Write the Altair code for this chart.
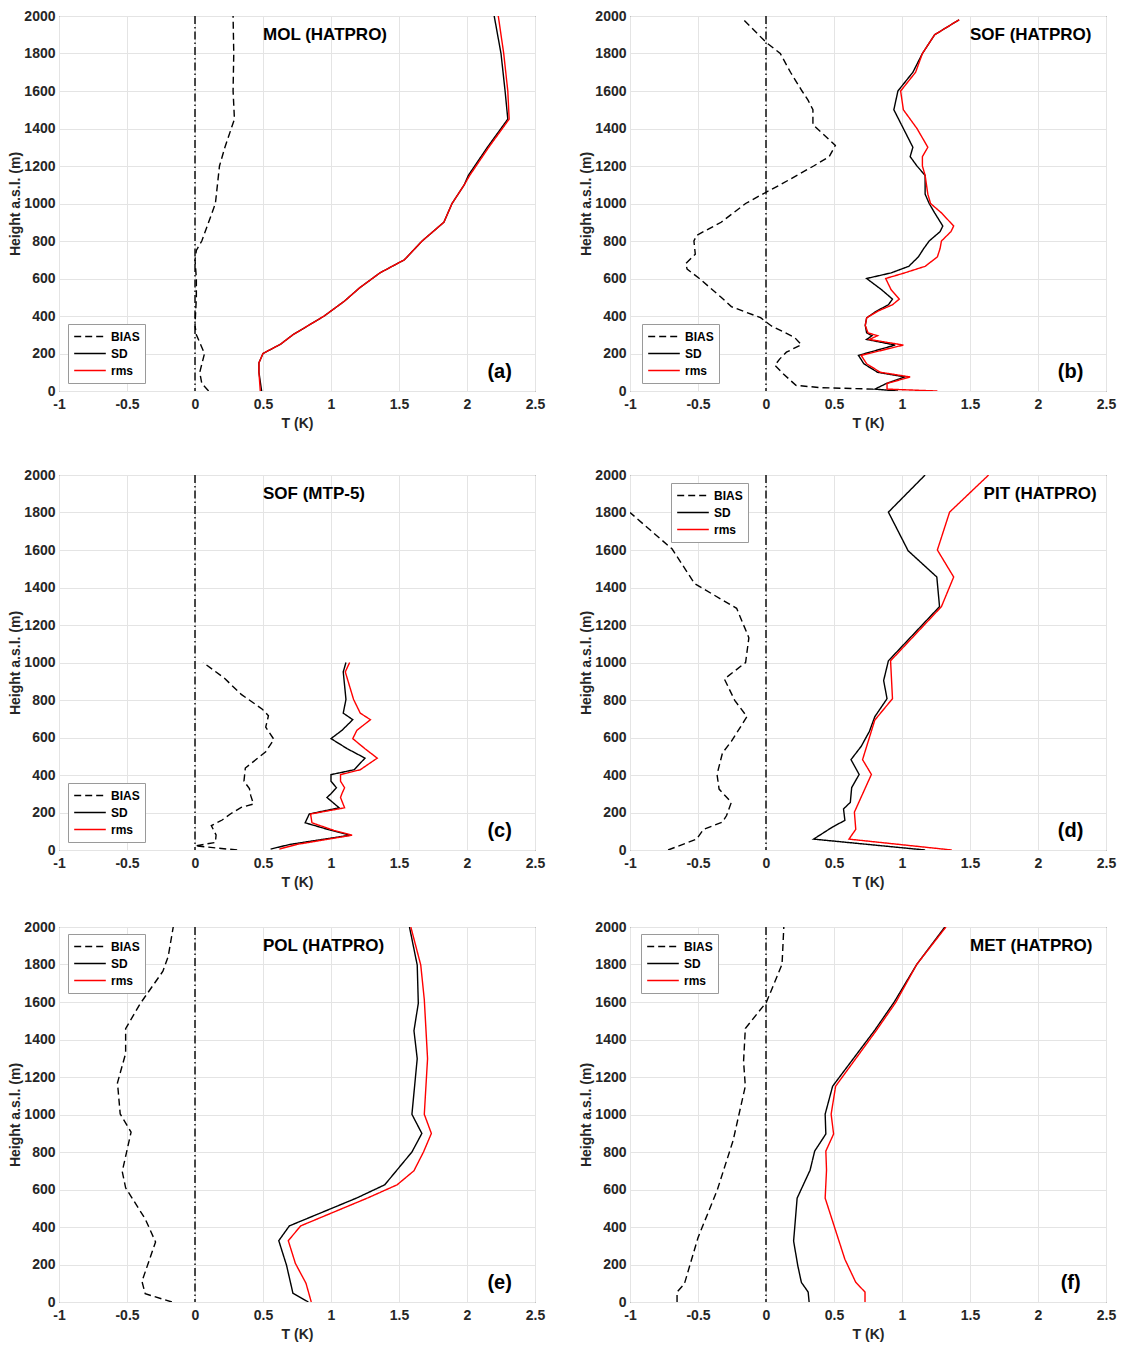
import altair as alt
import pandas as pd

SERIES = ["BIAS", "SD", "rms"]
X_TICKS = [-1, -0.5, 0, 0.5, 1, 1.5, 2, 2.5]
Y_TICKS = [0, 200, 400, 600, 800, 1000, 1200, 1400, 1600, 1800, 2000]

# (a) MOL (HATPRO)
mol_h_bias = [0, 40, 100, 200, 300, 350, 500, 600, 700, 750, 800, 1000, 1200, 1300, 1450, 1600, 1800, 2000]
mol_bias = [0.10, 0.05, 0.035, 0.07, 0.01, 0.0, 0.01, 0.01, 0.0, 0.01, 0.05, 0.15, 0.18, 0.22, 0.29, 0.28, 0.285, 0.28]
mol_h = [0, 100, 150, 200, 250, 300, 400, 480, 550, 630, 700, 800, 900, 1000, 1100, 1150, 1300, 1450, 1600, 1800, 2000]
mol_sd = [0.49, 0.47, 0.47, 0.50, 0.63, 0.72, 0.95, 1.10, 1.21, 1.36, 1.54, 1.67, 1.83, 1.89, 1.98, 2.01, 2.15, 2.30, 2.28, 2.25, 2.20]
mol_rms = [0.48, 0.47, 0.47, 0.50, 0.63, 0.72, 0.95, 1.10, 1.21, 1.36, 1.54, 1.67, 1.83, 1.89, 1.98, 2.02, 2.16, 2.31, 2.30, 2.27, 2.23]

# (b) SOF (HATPRO)
sofh_h_bias = [10, 18, 30, 50, 93, 137, 170, 207, 247, 286, 347, 391, 450, 500, 600, 650, 680, 730, 800, 830,
               900, 1000, 1060, 1100, 1200, 1250, 1310, 1420, 1500, 1550, 1600, 1700, 1800, 1860, 1980]
sofh_bias = [0.79, 0.40, 0.22, 0.19, 0.125, 0.065, 0.10, 0.15, 0.26, 0.21, 0.04, -0.04, -0.255, -0.33, -0.49,
             -0.58, -0.59, -0.52, -0.53, -0.51, -0.33, -0.15, 0.0, 0.105, 0.35, 0.465, 0.51, 0.345, 0.345,
             0.31, 0.265, 0.18, 0.105, 0.0, -0.165]
sofh_h = [0, 10, 40, 75, 100, 145, 190, 245, 275, 295, 310, 350, 390, 425, 460, 490, 540, 600, 630, 665,
          715, 760, 800, 850, 880, 950, 1000, 1050, 1150, 1200, 1250, 1300, 1400, 1500, 1600, 1700, 1800, 1900, 1980]
sofh_sd = [0.97, 0.80, 0.885, 1.02, 0.82, 0.72, 0.68, 0.95, 0.74, 0.78, 0.74, 0.73, 0.74, 0.81, 0.90, 0.93, 0.85,
           0.74, 0.92, 1.05, 1.12, 1.16, 1.20, 1.28, 1.30, 1.24, 1.20, 1.17, 1.17, 1.11, 1.06, 1.08, 1.01, 0.94,
           0.97, 1.08, 1.15, 1.24, 1.42]
sofh_rms = [1.26, 0.89, 0.89, 1.06, 0.84, 0.74, 0.70, 1.01, 0.76, 0.82, 0.75, 0.73, 0.74, 0.82, 0.93, 0.98, 0.92,
            0.88, 1.02, 1.17, 1.26, 1.28, 1.29, 1.36, 1.38, 1.29, 1.21, 1.19, 1.17, 1.15, 1.15, 1.19, 1.11, 1.01,
            0.99, 1.10, 1.15, 1.24, 1.42]

# (c) SOF (MTP-5)
sofm_h_bias = [0, 22, 40, 80, 130, 160, 192, 227, 245, 290, 328, 367, 437, 489, 524, 590, 655, 716, 751, 830, 917, 1000]
sofm_bias = [0.31, 0.0, 0.15, 0.155, 0.12, 0.20, 0.26, 0.34, 0.43, 0.41, 0.40, 0.36, 0.37, 0.46, 0.52, 0.58,
             0.52, 0.54, 0.495, 0.34, 0.215, 0.06]
sofm_h = [5, 30, 79, 105, 145, 192, 225, 280, 300, 332, 367, 402, 428, 490, 540, 594, 638, 695, 730, 803, 950, 1000]
sofm_sd = [0.556, 0.70, 1.14, 1.00, 0.81, 0.84, 1.06, 0.97, 1.00, 1.04, 1.00, 1.00, 1.17, 1.25, 1.12, 1.00,
           1.08, 1.16, 1.09, 1.11, 1.09, 1.11]
sofm_rms = [0.62, 0.75, 1.155, 1.02, 0.86, 0.85, 1.10, 1.07, 1.08, 1.10, 1.07, 1.07, 1.215, 1.34, 1.25, 1.16,
            1.19, 1.29, 1.215, 1.166, 1.105, 1.137]

# (d) PIT (HATPRO)
pit_h_bias = [0, 58, 110, 149, 184, 254, 325, 403, 518, 579, 711, 798, 912, 1000, 1132, 1289, 1333, 1421, 1605, 1800]
pit_bias = [-0.72, -0.51, -0.46, -0.32, -0.29, -0.255, -0.345, -0.36, -0.32, -0.255, -0.14, -0.23, -0.306,
            -0.15, -0.126, -0.216, -0.32, -0.525, -0.69, -1.0]
pit_h_sd = [0, 58, 123, 158, 219, 254, 333, 403, 482, 553, 632, 711, 807, 904, 1009, 1298, 1456, 1596, 1802, 2000]
pit_sd = [1.17, 0.35, 0.49, 0.58, 0.57, 0.62, 0.63, 0.685, 0.625, 0.70, 0.76, 0.80, 0.89, 0.865, 0.90, 1.276,
          1.256, 1.045, 0.90, 1.17]
pit_h_rms = [0, 58, 110, 202, 403, 482, 693, 807, 1009, 1298, 1456, 1600, 1802, 2000]
pit_rms = [1.366, 0.61, 0.66, 0.65, 0.775, 0.71, 0.80, 0.93, 0.916, 1.29, 1.38, 1.26, 1.35, 1.637]

# (e) POL (HATPRO)
pol_h_bias = [0, 44, 110, 320, 443, 609, 696, 906, 1003, 1169, 1326, 1458, 1589, 1764, 1843, 2000]
pol_bias = [-0.17, -0.366, -0.39, -0.29, -0.366, -0.51, -0.535, -0.47, -0.55, -0.57, -0.51, -0.51, -0.405,
            -0.236, -0.197, -0.16]
pol_h_sd = [0, 47, 196, 327, 406, 555, 625, 800, 899, 1001, 1298, 1447, 1593, 1797, 2000]
pol_sd = [0.834, 0.72, 0.673, 0.616, 0.694, 1.19, 1.395, 1.595, 1.668, 1.595, 1.634, 1.61, 1.642, 1.634, 1.577]
pol_h_rms = [0, 100, 206, 327, 406, 555, 625, 700, 800, 899, 1001, 1298, 1613, 1797, 2000]
pol_rms = [0.855, 0.816, 0.738, 0.686, 0.777, 1.27, 1.486, 1.61, 1.68, 1.738, 1.686, 1.71, 1.686, 1.66, 1.587]

# (f) MET (HATPRO)
met_h_bias = [0, 53, 97, 343, 598, 861, 1151, 1283, 1459, 1599, 1801, 2000]
met_bias = [-0.654, -0.654, -0.60, -0.50, -0.358, -0.242, -0.152, -0.165, -0.152, 0.003, 0.118, 0.131]
met_h_sd = [0, 53, 105, 193, 325, 554, 703, 805, 896, 1002, 1151, 1450, 1599, 1801, 2000]
met_sd = [0.317, 0.31, 0.26, 0.234, 0.203, 0.229, 0.324, 0.358, 0.44, 0.435, 0.49, 0.80, 0.942, 1.109, 1.315]
met_h_rms = [0, 53, 105, 228, 554, 703, 805, 896, 1002, 1151, 1450, 1599, 1801, 2000]
met_rms = [0.728, 0.728, 0.66, 0.58, 0.435, 0.445, 0.44, 0.497, 0.479, 0.512, 0.813, 0.955, 1.109, 1.323]

FONT = "Liberation Sans"
INK = "#262626"
W, H = 476, 375

X_AXIS = alt.Axis(values=X_TICKS, labelExpr="'' + datum.value")
Y_AXIS = alt.Axis(values=Y_TICKS, format="d")
X_SCALE = alt.Scale(domain=[-1, 2.5], nice=False, zero=False)
Y_SCALE = alt.Scale(domain=[0, 2000], nice=False)


def panel(h_bias, bias, h_sd, sd, h_rms, rms, name, letter, name_x, leg_x, leg_y):
    df = pd.concat([
        pd.DataFrame({"h": h_bias, "T": bias, "series": "BIAS"}),
        pd.DataFrame({"h": h_sd, "T": sd, "series": "SD"}),
        pd.DataFrame({"h": h_rms, "T": rms, "series": "rms"}),
    ], ignore_index=True)

    legend = alt.Legend(orient="none", legendX=leg_x, legendY=leg_y, title=None,
                        symbolType="stroke", symbolSize=1000, symbolStrokeWidth=1.5,
                        labelFont=FONT, labelFontSize=12, labelFontWeight="bold", labelColor="black",
                        labelOffset=4, clipHeight=15, rowPadding=2, padding=5,
                        strokeColor="#9a9a9a", fillColor="white", cornerRadius=0)

    lines = alt.Chart(df).mark_line(strokeWidth=1.4, clip=True).encode(
        x=alt.X("T:Q", title="T (K)", scale=X_SCALE, axis=X_AXIS),
        y=alt.Y("h:Q", title="Height a.s.l. (m)", scale=Y_SCALE, axis=Y_AXIS),
        color=alt.Color("series:N", scale=alt.Scale(domain=SERIES, range=["#000000", "#000000", "#ff0000"]),
                        legend=legend),
        strokeDash=alt.StrokeDash("series:N", scale=alt.Scale(domain=SERIES, range=[[7, 4], [1, 0], [1, 0]]),
                                  legend=legend),
        order=alt.Order("h:Q"),
    )

    zero = alt.Chart(pd.DataFrame({"T": [0]})).mark_rule(
        color="black", strokeWidth=1.4, strokeDash=[8, 3, 1.5, 3]
    ).encode(x=alt.X("T:Q", title="T (K)", scale=X_SCALE, axis=X_AXIS))

    title = alt.Chart(pd.DataFrame({"txt": [name]})).mark_text(
        align="left", baseline="middle", font=FONT, fontSize=17, fontWeight="bold", color="black"
    ).encode(
        x=alt.X(datum=name_x, title="T (K)", scale=X_SCALE, axis=X_AXIS),
        y=alt.Y(datum=1900, title="Height a.s.l. (m)", scale=Y_SCALE, axis=Y_AXIS),
        text="txt:N",
    )

    tag = alt.Chart(pd.DataFrame({"txt": [letter]})).mark_text(
        align="center", baseline="middle", font=FONT, fontSize=20, fontWeight="bold", color="black"
    ).encode(
        x=alt.X(datum=2.24, title="T (K)", scale=X_SCALE, axis=X_AXIS),
        y=alt.Y(datum=100, title="Height a.s.l. (m)", scale=Y_SCALE, axis=Y_AXIS),
        text="txt:N",
    )

    return alt.layer(lines, zero, title, tag).properties(width=W, height=H)


LEG_LOW = H - 67
pa = panel(mol_h_bias, mol_bias, mol_h, mol_sd, mol_h, mol_rms, "MOL (HATPRO)", "(a)", 0.5, 9, LEG_LOW)
pb = panel(sofh_h_bias, sofh_bias, sofh_h, sofh_sd, sofh_h, sofh_rms, "SOF (HATPRO)", "(b)", 1.5, 12, LEG_LOW)
pc = panel(sofm_h_bias, sofm_bias, sofm_h, sofm_sd, sofm_h, sofm_rms, "SOF (MTP-5)", "(c)", 0.5, 9, LEG_LOW)
pd_ = panel(pit_h_bias, pit_bias, pit_h_sd, pit_sd, pit_h_rms, pit_rms, "PIT (HATPRO)", "(d)", 1.6, 41, 8)
pe = panel(pol_h_bias, pol_bias, pol_h_sd, pol_sd, pol_h_rms, pol_rms, "POL (HATPRO)", "(e)", 0.5, 9, 7)
pf = panel(met_h_bias, met_bias, met_h_sd, met_sd, met_h_rms, met_rms, "MET (HATPRO)", "(f)", 1.5, 11, 7)


def row(left, right):
    return alt.hconcat(left, right, spacing=33).resolve_scale(color="independent", strokeDash="independent")


chart = alt.vconcat(
    row(pa, pb),
    alt.vconcat(row(pc, pd_), row(pe, pf), spacing=29).resolve_scale(color="independent", strokeDash="independent"),
    spacing=36,
).resolve_scale(
    color="independent", strokeDash="independent"
).properties(
    padding=0
).configure_view(
    stroke=INK, strokeWidth=1
).configure_axis(
    domain=False, ticks=False, grid=True, gridColor="#e4e4e4", gridWidth=1,
    labelFont=FONT, labelFontSize=14, labelFontWeight="bold", labelColor=INK,
    labelFlush=False, labelOverlap=False,
    titleFont=FONT, titleFontSize=14, titleFontWeight="bold", titleColor=INK,
).configure_axisX(
    labelPadding=6, titlePadding=5
).configure_axisY(
    labelPadding=4, titlePadding=1
)

chart.save("out.html", embed_options={"renderer": "svg", "actions": False})
